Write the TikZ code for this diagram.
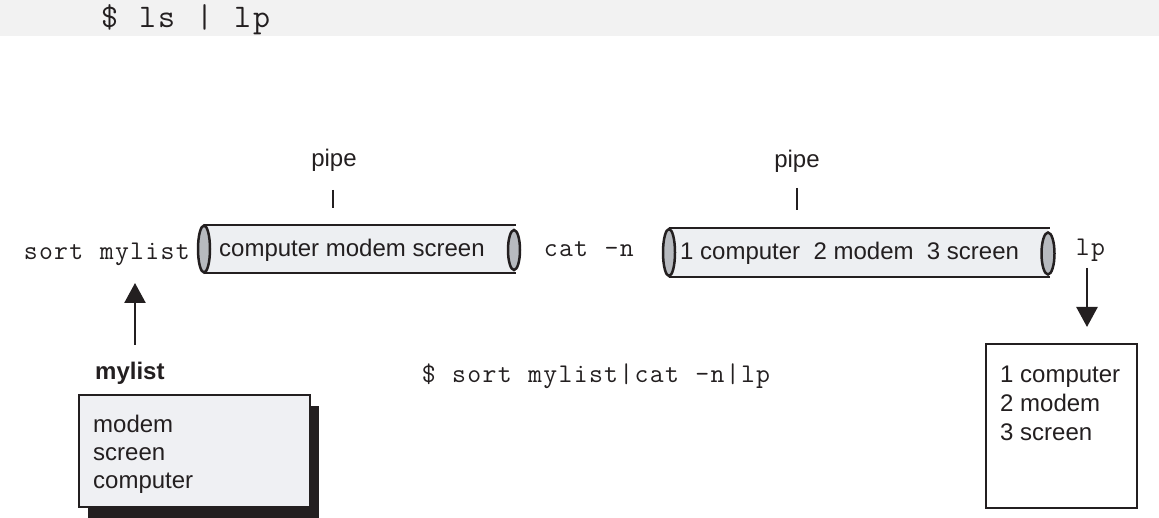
\documentclass[tikz,border=0pt]{standalone}
\usepackage{fontspec}
\setmainfont{Liberation Sans}
\usetikzlibrary{arrows.meta,shadows}
\definecolor{ink}{HTML}{231F20}
\definecolor{band}{HTML}{F2F2F2}
\definecolor{tubebody}{HTML}{EDEFF2}
\definecolor{tubeend}{HTML}{B7BABF}
\definecolor{boxfill}{HTML}{EFF0F3}
\ExplSyntaxOn
\NewDocumentCommand\monotext{m m}{
  \str_map_inline:nn {#2} { \makebox[#1][c]{##1} }
}
\ExplSyntaxOff
\tikzset{
  sans/.style={inner sep=0pt, anchor=base west, text=ink, font=\fontsize{24}{29}\selectfont},
  mono/.style={inner sep=0pt, anchor=base west, text=ink, font=\ttfamily\fontsize{27}{30}\selectfont},
  tubeline/.style={draw=ink, line width=2pt},
  endcap/.style={draw=ink, line width=2.5pt, fill=tubeend},
  tick/.style={draw=ink, line width=2.5pt},
  arr/.style={draw=ink, line width=2.5pt, -{Triangle[length=20pt,width=21pt]}},
}
\begin{document}
\begin{tikzpicture}[x=1pt, y=-1pt]
\useasboundingbox (0,0) rectangle (1159,518);
% top band
\fill[band] (0,0) rectangle (1159,36);
\node[mono, font=\ttfamily\fontsize{33}{36}\selectfont] (cmdtop) at (100,28) {\monotext{19pt}{$ ls | lp}};

% labels
\node[mono] (sortcmd) at (23,260) {\monotext{15.2pt}{sort mylist}};
\node[mono] (catcmd) at (543,257) {\monotext{15.2pt}{cat -n}};
\node[mono] (lpcmd) at (1075,256) {\monotext{15.2pt}{lp}};
\node[mono] (fullcmd) at (421,382) {\monotext{15.2pt}{$ sort mylist|cat -n|lp}};

% pipe 1
\fill[tubebody] (204,225) rectangle (514,273);
\draw[tubeline] (204,225) -- (516,225) (204,273) -- (516,273);
\draw[endcap] (204,249) ellipse (6 and 23.5);
\draw[endcap] (514,250) ellipse (6 and 20);
\node[sans] (pipeone) at (219,257) {computer modem screen};
\node[sans, anchor=base] (pipelabelone) at (334,167) {pipe};
\coordinate (tickonetop) at (333,190);
\coordinate (tickonebot) at (333,208);
\draw[tick] (tickonetop) -- (tickonebot);

% pipe 2
\fill[tubebody] (669,228) rectangle (1048,277);
\draw[tubeline] (669,228) -- (1050,228) (669,277) -- (1050,277);
\draw[endcap] (669,252.5) ellipse (6 and 23.5);
\draw[endcap] (1048,253.5) ellipse (6.5 and 21);
\node[sans] (pipetwo) at (680,260) {1 computer~~2 modem~~3 screen};
\node[sans, anchor=base] (pipelabeltwo) at (797,168) {pipe};
\coordinate (ticktwotop) at (797,188);
\coordinate (ticktwobot) at (797,210);
\draw[tick] (ticktwotop) -- (ticktwobot);

% mylist box
\node[sans, font=\bfseries\fontsize{24}{29}\selectfont] (mylistlabel) at (95,380) {mylist};
\node[draw=ink, line width=2pt, fill=boxfill, minimum width=231pt, minimum height=112pt,
      anchor=north west, inner sep=0pt,
      drop shadow={shadow xshift=9pt, shadow yshift=-11pt, fill=ink, opacity=1}]
      (mylistbox) at (78,394) {};
\node[sans, anchor=base west, align=left, font=\fontsize{24}{28}\selectfont] (mylisttext) at (93,488)
  {modem\\screen\\computer};
\coordinate (upfrom) at (135,345);
\coordinate (upto) at (135,283);
\draw[arr] (upfrom) -- (upto);

% output box
\node[draw=ink, line width=2pt, fill=white, minimum width=151pt, minimum height=164pt,
      anchor=north west, inner sep=0pt] (outbox) at (985,343) {};
\node[sans, anchor=base west, align=left, font=\fontsize{24}{29}\selectfont] (outtext) at (1000,440)
  {1 computer\\2 modem\\3 screen};
\coordinate (downfrom) at (1087,268);
\coordinate (downto) at (1087,327);
\draw[arr] (downfrom) -- (downto);
\end{tikzpicture}
\end{document}
